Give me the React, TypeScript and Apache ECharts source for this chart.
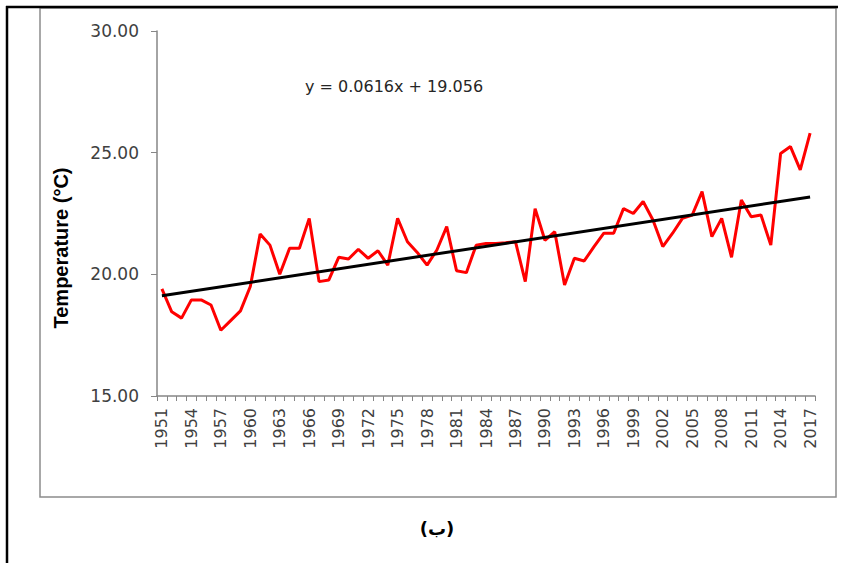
import React, { useEffect, useRef } from "react";
import * as echarts from "echarts";

const years: string[] = [
  "1951", "1952", "1953", "1954", "1955", "1956", "1957", "1958", "1959", "1960",
  "1961", "1962", "1963", "1964", "1965", "1966", "1967", "1968", "1969", "1970",
  "1971", "1972", "1973", "1974", "1975", "1976", "1977", "1978", "1979", "1980",
  "1981", "1982", "1983", "1984", "1985", "1986", "1987", "1988", "1989", "1990",
  "1991", "1992", "1993", "1994", "1995", "1996", "1997", "1998", "1999", "2000",
  "2001", "2002", "2003", "2004", "2005", "2006", "2007", "2008", "2009", "2010",
  "2011", "2012", "2013", "2014", "2015", "2016", "2017",
];

const temperature: number[] = [
  19.4, 18.46, 18.2, 18.95, 18.95, 18.74, 17.7, 18.1, 18.5, 19.5,
  21.66, 21.2, 20.0, 21.07, 21.07, 22.3, 19.7, 19.77, 20.7, 20.63,
  21.03, 20.66, 20.97, 20.38, 22.3, 21.34, 20.9, 20.38, 21.0, 21.96,
  20.15, 20.07, 21.2, 21.27, 21.27, 21.3, 21.34, 19.7, 22.7, 21.4,
  21.75, 19.56, 20.66, 20.55, 21.14, 21.69, 21.69, 22.7, 22.5, 22.99,
  22.23, 21.14, 21.69, 22.3, 22.44, 23.4, 21.55, 22.3, 20.7, 23.05,
  22.37, 22.44, 21.2, 24.97, 25.25, 24.29, 25.8,
];

// trend line end points (y = 0.0616x + 19.056 at first and last year)
const trendYears: string[] = ["1951", "2017"];
const trendValues: number[] = [19.12, 23.18];

const equationText = "y = 0.0616x + 19.056";
const yAxisTitle = "Temperature (°C)";
const captionText = "(ب)";

export default function App() {
  const ref = useRef<HTMLDivElement>(null);

  useEffect(() => {
    if (!ref.current) return;
    const chart = echarts.init(ref.current, undefined, { renderer: "svg" });
    const labelColor = "#404040";
    const axisColor = "#868686";
    chart.setOption({
      animation: false,
      backgroundColor: "#ffffff",
      grid: { left: 157, right: 41, top: 31, bottom: 167, containLabel: false },
      xAxis: {
        type: "category",
        data: years,
        boundaryGap: true,
        axisLine: { show: true, lineStyle: { color: axisColor, width: 1.5 } },
        axisTick: { show: true, interval: 0, length: 5, lineStyle: { color: axisColor } },
        axisLabel: {
          interval: 2,
          rotate: 90,
          color: labelColor,
          fontFamily: "DejaVu Sans",
          fontSize: 16,
          margin: 12,
        },
        splitLine: { show: false },
      },
      yAxis: {
        type: "value",
        min: 15,
        max: 30,
        interval: 5,
        axisLine: { show: true, lineStyle: { color: axisColor, width: 1.5 } },
        axisTick: { show: true, length: 6, lineStyle: { color: axisColor } },
        axisLabel: {
          color: labelColor,
          fontFamily: "DejaVu Sans",
          fontSize: 17,
          margin: 18,
          formatter: (v: number) => v.toFixed(2),
        },
        splitLine: { show: false },
      },
      series: [
        {
          type: "line",
          data: temperature,
          showSymbol: false,
          symbol: "none",
          lineStyle: { color: "#ff0000", width: 3 },
          z: 2,
        },
        {
          type: "line",
          data: trendYears.map((y, i) => [y, trendValues[i]]),
          showSymbol: false,
          symbol: "none",
          lineStyle: { color: "#000000", width: 3 },
          z: 3,
        },
      ],
      graphic: [
        {
          type: "rect",
          shape: { x: 40, y: 8, width: 796, height: 489 },
          style: { fill: "none", stroke: "#8c8c8c", lineWidth: 1.5 },
          silent: true,
        },
        {
          type: "line",
          shape: { x1: 6, y1: 7, x2: 838, y2: 7 },
          style: { stroke: "#000000", lineWidth: 2.5 },
          silent: true,
        },
        {
          type: "line",
          shape: { x1: 7, y1: 6, x2: 7, y2: 563 },
          style: { stroke: "#000000", lineWidth: 2.5 },
          silent: true,
        },
        {
          type: "text",
          x: 61,
          y: 248,
          rotation: Math.PI / 2,
          style: {
            text: yAxisTitle,
            x: 0,
            y: 0,
            fill: "#000000",
            font: "bold 20px 'Liberation Sans'",
            align: "center",
            verticalAlign: "middle",
          },
          silent: true,
        },
        {
          type: "text",
          style: {
            text: equationText,
            x: 305,
            y: 86,
            fill: "#262626",
            font: "16px 'DejaVu Sans'",
            verticalAlign: "middle",
          },
          silent: true,
        },
        {
          type: "text",
          style: {
            text: captionText,
            x: 437,
            y: 528,
            fill: "#000000",
            font: "bold 18px 'DejaVu Sans'",
            align: "center",
            verticalAlign: "middle",
          },
          silent: true,
        },
      ],
    });
    return () => chart.dispose();
  }, []);

  return (
    <div
      ref={ref}
      style={{ position: "absolute", left: 0, top: 0, width: 856, height: 563, background: "#fff" }}
    />
  );
}
